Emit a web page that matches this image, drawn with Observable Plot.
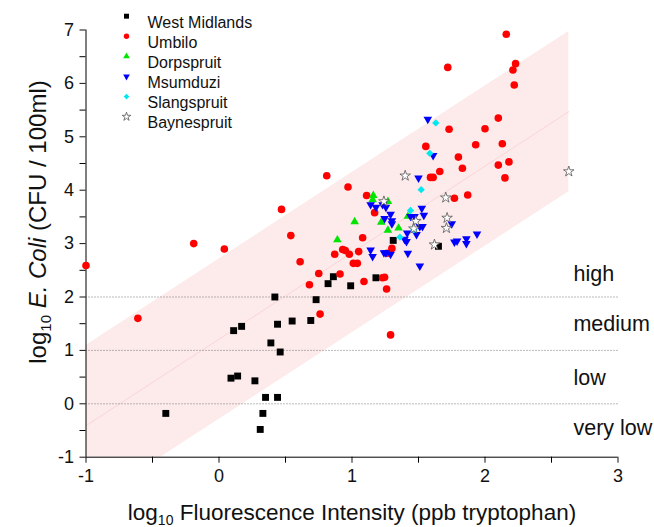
<!DOCTYPE html>
<html><head><meta charset="utf-8">
<script src="https://cdn.jsdelivr.net/npm/d3@7"></script>
<script src="https://cdn.jsdelivr.net/npm/@observablehq/plot@0.6"></script>
<style>body{margin:0;background:#fff} #chart{position:relative;width:654px;height:527px}</style>
</head><body><div id="chart"></div>
<script>
// ---- data (log10 fluorescence, log10 E. coli) ----
const westMidlands = [[-0.40,-0.18],[0.11,1.37],[0.17,1.45],[0.42,2.00],[0.44,1.49],[0.55,1.55],[0.69,1.56],[0.73,1.95],[0.82,2.25],[0.86,2.38],[0.99,2.21],[1.18,2.36],[0.39,1.14],[0.46,0.97],[0.09,0.48],[0.14,0.52],[0.27,0.43],[0.35,0.12],[0.44,0.12],[0.33,-0.18],[0.31,-0.48],[1.31,3.06],[1.65,2.95]];
const umbilo = [[-1.00,2.59],[-0.61,1.60],[-0.19,3.00],[0.04,2.90],[0.47,3.64],[0.54,3.15],[0.61,2.66],[0.75,2.44],[0.68,2.23],[0.76,1.68],[0.81,4.27],[0.97,4.06],[0.87,2.80],[0.93,2.89],[0.95,2.87],[0.98,2.80],[0.91,2.43],[1.11,3.90],[1.17,3.58],[1.08,3.11],[1.05,2.85],[1.01,2.63],[1.04,2.63],[1.09,2.29],[1.23,2.36],[1.245,2.37],[1.26,2.15],[1.29,1.29],[1.30,2.91],[1.265,2.82],[1.59,4.24],[1.61,4.24],[1.66,4.35],[1.80,4.62],[1.83,4.41],[1.77,3.85],[1.87,3.91],[2.10,4.47],[2.18,4.53],[2.15,4.23],[1.73,5.14],[1.555,4.82],[2.16,6.92],[1.72,6.30],[2.23,6.37],[2.21,6.25],[2.22,5.97],[2.10,5.35],[2.00,5.15],[1.93,4.85],[2.13,4.87]];
const dorpspruit = [[0.89,3.07],[1.02,3.41],[1.16,3.90],[1.155,3.82],[1.27,3.79],[1.22,3.40],[1.27,3.25],[1.35,3.29],[1.42,3.51]];
const msumduzi = [[1.57,5.33],[1.61,4.65],[1.50,4.23],[1.14,3.73],[1.18,3.68],[1.23,3.73],[1.255,3.68],[1.29,3.55],[1.245,3.47],[1.30,3.43],[1.30,3.37],[1.525,3.66],[1.54,3.53],[1.44,3.51],[1.47,3.51],[1.51,3.32],[1.53,3.32],[1.415,3.20],[1.485,3.17],[1.395,3.08],[1.41,3.04],[1.14,2.88],[1.155,2.76],[1.24,2.83],[1.255,2.83],[1.29,2.80],[1.42,2.82],[1.51,2.58],[1.75,3.37],[1.77,3.03],[1.79,3.05],[1.86,3.09],[1.86,3.00],[1.94,3.18]];
const slangspruit = [[1.63,5.26],[1.585,4.69],[1.52,4.01],[1.44,3.62],[1.465,3.26],[1.36,3.12]];
const baynespruit = [[1.40,4.27],[1.24,3.79],[1.705,3.86],[1.715,3.48],[1.71,3.29],[1.62,2.98],[1.48,3.42],[1.465,3.28],[2.63,4.35]];

const seriesNames = ["West Midlands","Umbilo","Dorpspruit","Msumduzi","Slangspruit","Baynespruit"];
const seriesData = [westMidlands, umbilo, dorpspruit, msumduzi, slangspruit, baynespruit];

// regression band
const fitSlope = 1.62, fitIntercept = 1.21, bandHalfWidth = 1.5;
const bandX = [-1.0, 2.63];

// class boundaries and labels
const classBounds = [0, 1, 2];
const classLabels = ["high","medium","low","very low"];
const classLabelY = [2.42, 1.50, 0.49, -0.46];
const classLabelX = 2.665;

const xMajor = [-1,0,1,2,3], xMinor = [-0.5,0.5,1.5,2.5];
const yMajor = [-1,0,1,2,3,4,5,6,7], yMinor = [-0.5,0.5,1.5,2.5,3.5,4.5,5.5,6.5];

// ---- styles ----
const styles = [
  {symbol:"square", fill:"#000", stroke:"none", r:3.9, lr:2.8},
  {symbol:"circle", fill:"#ff0000", stroke:"none", r:3.8, lr:2.7},
  {symbol:"triangle", fill:"#00e600", stroke:"none", r:3.2, lr:2.5},
  {symbol:"triangle", fill:"#0000ff", stroke:"none", r:3.2, lr:2.5, rotate:180},
  {symbol:"diamond2", fill:"#00e8f0", stroke:"none", r:3.3, lr:2.5},
  {symbol:"star", fill:"#fff", stroke:"#555", r:3.3, lr:2.7, strokeWidth:0.8}
];

const band = bandX.map(x => ({x, lo: fitIntercept + fitSlope*x - bandHalfWidth, mid: fitIntercept + fitSlope*x, hi: fitIntercept + fitSlope*x + bandHalfWidth}));
const labelRows = classLabels.map((t,i) => ({t, x: classLabelX, y: classLabelY[i]}));

const marks = [
  Plot.areaY(band, {x:"x", y1:"lo", y2:"hi", fill:"#fdeaea", clip:true}),
  Plot.line(band, {x:"x", y:"mid", stroke:"#f9d6d6", strokeWidth:1, clip:true}),
  Plot.ruleY(classBounds, {x1:-1, x2:3, stroke:"#777", strokeWidth:1, strokeDasharray:"1,2"}),
  Plot.text(labelRows, {x:"x", y:"y", text:"t", textAnchor:"start", fontSize:21.5, fill:"#111"}),
  Plot.axisX({ticks:xMajor, tickSize:6, tickPadding:6, fontSize:18, label:null, tickFormat:d=>String(d), color:"#111"}),
  Plot.axisX({ticks:xMinor, tickSize:6, tickFormat:()=>"", label:null}),
  Plot.axisY({ticks:yMajor, tickSize:6, tickPadding:6, fontSize:18, label:null, tickFormat:d=>String(d), color:"#111"}),
  Plot.axisY({ticks:yMinor, tickSize:6, tickFormat:()=>"", label:null}),
  Plot.ruleX([-1], {y1:-1, y2:7, stroke:"#000"}),
  Plot.ruleY([-1], {x1:-1, x2:3, stroke:"#000"})
];

seriesData.forEach((data, i) => {
  const s = styles[i];
  marks.push(Plot.dot(data, {x:d=>d[0], y:d=>d[1], symbol:s.symbol, fill:s.fill, stroke:s.stroke, strokeWidth:s.strokeWidth||1, r:s.r, rotate:s.rotate||0}));
});
// legend (top-left, inside plot)
seriesNames.forEach((name, i) => {
  const s = styles[i];
  marks.push(Plot.dot([name], {frameAnchor:"top-left", dx:40.5, dy:-13.8 + i*20.1, symbol:s.symbol, fill:s.fill, stroke:s.stroke, strokeWidth:s.strokeWidth||1, r:s.lr, rotate:s.rotate||0}));
  marks.push(Plot.text([name], {frameAnchor:"top-left", dx:61.5, dy:-13.8 + i*20.1, text:d=>d, textAnchor:"start", fontSize:16, fill:"#111"}));
});

const chart = Plot.plot({
  width:654, height:527,
  marginLeft:85.5, marginRight:36.5, marginTop:29.5, marginBottom:70.3,
  x:{domain:[-1,3]}, y:{domain:[-1,7]},
  style:{fontFamily:"'Liberation Sans', Arial, sans-serif", background:"#fff", overflow:"visible"},
  marks
});

const svg = d3.select(chart);
const xt = svg.append("text").attr("x", 352).attr("y", 520).attr("text-anchor","middle")
  .attr("font-size", 22.5).attr("fill","#111");
xt.append("tspan").text("log");
xt.append("tspan").attr("dy", 5).attr("font-size", 14).text("10");
xt.append("tspan").attr("dy", -5).text(" Fluorescence Intensity (ppb tryptophan)");

const yt = svg.append("text").attr("transform","translate(46,222) rotate(-90)").attr("text-anchor","middle")
  .attr("font-size", 24).attr("fill","#111");
yt.append("tspan").text("log");
yt.append("tspan").attr("dy", 5).attr("font-size", 15).text("10");
yt.append("tspan").attr("dy", -5).text(" ");
yt.append("tspan").attr("font-style","italic").text("E. Coli");
yt.append("tspan").text(" (CFU / 100ml)");

document.getElementById("chart").appendChild(chart);
</script>
</body></html>
